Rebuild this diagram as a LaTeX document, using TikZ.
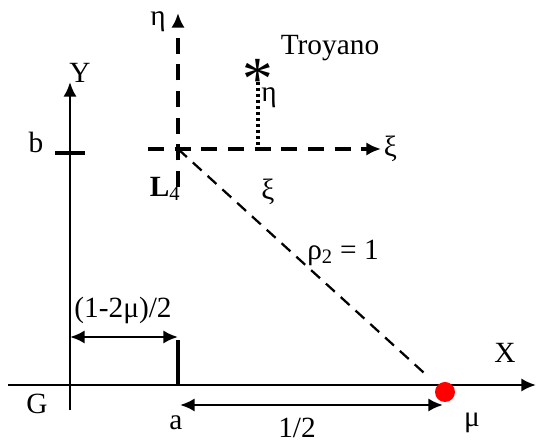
\documentclass[tikz,border=0pt]{standalone}
\usepackage{fontspec}
\setmainfont{Liberation Serif}
\usetikzlibrary{positioning, calc, arrows.meta}

\begin{document}
\begin{tikzpicture}[
  x=0.75pt, y=0.75pt,
  >={Latex[length=11pt, width=10pt]},
  every node/.style={font=\fontsize{22}{26}\selectfont, inner sep=1pt},
  axis/.style={line width=2pt},
  tick/.style={line width=3pt},
  dim/.style={<->, line width=2pt},
  rotaxis/.style={line width=3pt, dash pattern=on 12pt off 8pt},
  distline/.style={line width=1.7pt, dash pattern=on 9pt off 6pt},
  dotline/.style={line width=3pt, dash pattern=on 2.2pt off 2.3pt},
  mass/.style={circle, fill=red, inner sep=0pt, minimum size=15pt}
]
\useasboundingbox (0,0) rectangle (537,446);

%------------------------------------------------
% Axes
%------------------------------------------------
\coordinate (G) at (70,61);
\coordinate (xstart) at (8,61);
\coordinate (xend) at (536,61);
\coordinate (ystart) at (70,36);
\coordinate (yend) at (70,364);

\draw[axis, ->] (xstart) -- (xend);
\draw[axis, ->] (ystart) -- (yend);

\node (xlabel) at (505,93) {X};
\node (ylabel) at (80,373) {Y};
\node (glabel) at (37,42) {G};

% b and a ticks
\coordinate (bleft) at (55,293);
\coordinate (bright) at (85,293);
\draw[tick] (bleft) -- (bright);
\node (blabel) at (36,304) {b};

\coordinate (abot) at (178,61);
\coordinate (atop) at (178,106);
\draw[tick] (abot) -- (atop);
\node (alabel) at (176,23) {a};

%------------------------------------------------
% Distances
%------------------------------------------------
\coordinate (d1left) at (70,109);
\coordinate (d1right) at (178,109);
\draw[dim] (d1left) -- (d1right);
\node (d1label) at (123,136) {(1-2μ)/2};

\coordinate (d2left) at (180,41);
\coordinate (d2right) at (443,41);
\draw[dim] (d2left) -- (d2right);
\node (d2label) at (297,18) {1/2};

% primary mass
\node[mass] (m2) at (445,54) {};
\node (mulabel) at (472,23) {μ};

%------------------------------------------------
% Rotating frame at L4
%------------------------------------------------
\coordinate (L4) at (178,297);
\coordinate (xileft) at (148,297);
\coordinate (xiend) at (381,297);
\coordinate (etabot) at (178,259);
\coordinate (etaend) at (178,433);

\draw[rotaxis, ->] (xileft) -- (xiend);
\draw[rotaxis, ->] (etabot) -- (etaend);
\node[right=1pt of xiend] (xilabel) {ξ};
\node (etalabel) at (158,424) {η};
\node (l4label) at (165,257) {\textbf{L}\textsubscript{4}};

% distance to the primary
\draw[distline] (L4) -- ($(L4)!0.93!(m2)$);
\node (rholabel) at (343,193) {ρ\textsubscript{2} = 1};

%------------------------------------------------
% Trojan body
%------------------------------------------------
\node[font=\fontsize{46}{46}\selectfont, inner sep=0pt] (star) at (258,367) {*};
\coordinate (trojan) at (258,364);
\coordinate (foot) at (258,297);
\draw[dotline] (trojan) -- (foot);
\node (troylabel) at (330,398) {Troyano};
\node (etaoff) at (269,348) {η};
\node (xioff) at (268,254) {ξ};

\end{tikzpicture}
\end{document}
